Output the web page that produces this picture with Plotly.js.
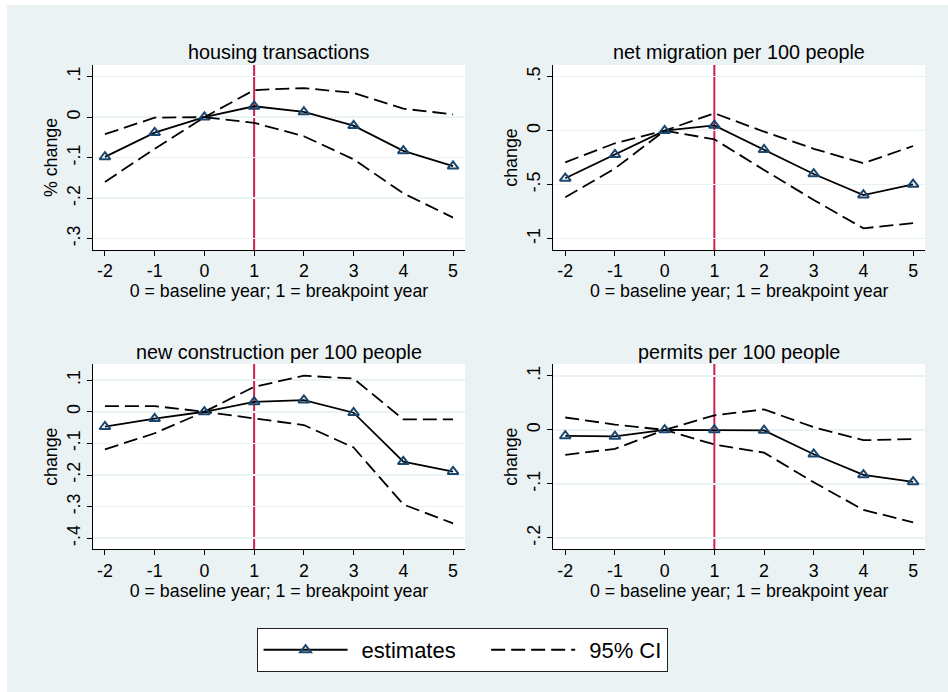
<!DOCTYPE html>
<html>
<head>
<meta charset="utf-8">
<script src="https://cdn.plot.ly/plotly-3.0.1.min.js"></script>
<style>
html,body{margin:0;padding:0;background:#ffffff;}
#chart{position:absolute;left:7px;top:5px;width:941px;height:687px;}
</style>
</head>
<body>
<div id="chart"></div>
<script>
// ---- data ----
const years = [-2, -1, 0, 1, 2, 3, 4, 5];
const xTickText = ["-2", "-1", "0", "1", "2", "3", "4", "5"];

const panelTitles = ["housing transactions", "net migration per 100 people",
                     "new construction per 100 people", "permits per 100 people"];
const yTitles = ["% change", "change", "change", "change"];
const xTitle = "0 = baseline year; 1 = breakpoint year";
const breakpointYear = 1;

const housingEst   = [-0.098, -0.038, 0, 0.027, 0.013, -0.021, -0.083, -0.121];
const housingUpper = [-0.042, -0.001, 0, 0.067, 0.072, 0.060, 0.021, 0.007];
const housingLower = [-0.160, -0.078, 0, -0.014, -0.047, -0.104, -0.188, -0.248];

const migrationEst   = [-0.441, -0.222, 0, 0.049, -0.176, -0.401, -0.596, -0.497];
const migrationUpper = [-0.293, -0.117, 0, 0.161, -0.009, -0.168, -0.302, -0.142];
const migrationLower = [-0.617, -0.350, 0, -0.080, -0.364, -0.642, -0.904, -0.857];

const constructionEst   = [-0.047, -0.022, 0, 0.031, 0.037, -0.003, -0.158, -0.189];
const constructionUpper = [0.018, 0.018, 0, 0.079, 0.114, 0.105, -0.024, -0.024];
const constructionLower = [-0.119, -0.068, 0, -0.021, -0.042, -0.113, -0.293, -0.353];

const permitsEst   = [-0.011, -0.012, 0, 0, -0.001, -0.045, -0.083, -0.096];
const permitsUpper = [0.023, 0.010, 0, 0.027, 0.038, 0.005, -0.019, -0.017];
const permitsLower = [-0.046, -0.035, 0, -0.027, -0.042, -0.097, -0.148, -0.171];

const yTickVals = [
  [-0.3, -0.2, -0.1, 0, 0.1],
  [-1, -0.5, 0, 0.5],
  [-0.4, -0.3, -0.2, -0.1, 0, 0.1],
  [-0.2, -0.1, 0, 0.1]
];
const yTickText = [
  ["-.3", "-.2", "-.1", "0", ".1"],
  ["-1", "-.5", "0", ".5"],
  ["-.4", "-.3", "-.2", "-.1", "0", ".1"],
  ["-.2", "-.1", "0", ".1"]
];
const legendNames = ["estimates", "95% CI"];

// ---- styling / layout ----
const BG = "#eaf2f3";
const NAVY = "#1a476f";
const RED = "#d0204c";
const FONT = "Liberation Sans, Arial, Helvetica, sans-serif";
const FS = 17.8;
const LW = 1.8;
const DASH = "14px,6px";
const PAD = "\u00a0\u00a0\u00a0\u00a0";   // spacing after the first legend entry

const series = [
  [housingEst, housingUpper, housingLower],
  [migrationEst, migrationUpper, migrationLower],
  [constructionEst, constructionUpper, constructionLower],
  [permitsEst, permitsUpper, permitsLower]
];
const yRanges = [[-0.328, 0.129], [-1.105, 0.608], [-0.435, 0.151], [-0.221, 0.122]];
const xDomains = [[0.0914, 0.4867], [0.5806, 0.9756], [0.0914, 0.4867], [0.5806, 0.9756]];
const yDomains = [[0.6434, 0.9127], [0.6434, 0.9127], [0.2077, 0.4774], [0.2077, 0.4774]];
const titleY = [0.9316, 0.9316, 0.4953, 0.4953];

const traces = [];
const legendTraces = [];
const layout = {
  width: 941, height: 687,
  margin: {l: 0, r: 0, t: 0, b: 0},
  paper_bgcolor: BG,
  plot_bgcolor: "#ffffff",
  font: {family: FONT, size: FS, color: "#000000"},
  showlegend: true,
  legend: {
    orientation: "h", x: 0.4836, xanchor: "center", y: 0.0932, yanchor: "top",
    bgcolor: "#ffffff", bordercolor: "#222222", borderwidth: 1,
    font: {family: FONT, size: 22, color: "#000000"},
    itemwidth: 94, tracegroupgap: 0
  },
  shapes: [],
  annotations: []
};

for (let i = 0; i < 4; i++) {
  const sfx = i === 0 ? "" : String(i + 1);
  const xa = "x" + sfx, ya = "y" + sfx;
  const [est, up, lo] = series[i];
  traces.push({
    x: years, y: up, xaxis: xa, yaxis: ya, type: "scatter", mode: "lines",
    line: {color: "#000000", width: LW, dash: DASH},
    name: legendNames[1], showlegend: false, hoverinfo: "skip"
  });
  const estTrace = {
    x: years, y: est, xaxis: xa, yaxis: ya, type: "scatter", mode: "lines+markers",
    line: {color: "#000000", width: LW},
    marker: {symbol: "triangle-up-open", size: 9.5, color: NAVY, line: {color: NAVY, width: 2}},
    name: i === 0 ? legendNames[0] + PAD : legendNames[0], showlegend: i === 0
  };
  const loTrace = {
    x: years, y: lo, xaxis: xa, yaxis: ya, type: "scatter", mode: "lines",
    line: {color: "#000000", width: LW, dash: DASH},
    name: legendNames[1], showlegend: i === 0, hoverinfo: "skip"
  };
  if (i === 0) {
    legendTraces.push(estTrace, loTrace);
  } else {
    traces.push(loTrace, estTrace);
  }

  layout["xaxis" + sfx] = {
    domain: xDomains[i], anchor: ya, range: [-2.24, 5.24],
    tickmode: "array", tickvals: years, ticktext: xTickText,
    ticks: "outside", ticklen: 5, tickwidth: 1, tickcolor: "#000000",
    showline: true, linecolor: "#000000", linewidth: 1,
    showgrid: false, zeroline: false,
    tickfont: {family: FONT, size: FS},
    title: {text: xTitle, font: {family: FONT, size: FS}, standoff: 0}
  };
  layout["yaxis" + sfx] = {
    domain: yDomains[i], anchor: xa, range: yRanges[i],
    tickmode: "array", tickvals: yTickVals[i], ticktext: yTickText[i],
    tickangle: -90,
    ticks: "outside", ticklen: 5, tickwidth: 1, tickcolor: "#000000",
    showline: true, linecolor: "#000000", linewidth: 1,
    showgrid: true, gridcolor: BG, gridwidth: 1.5, zeroline: false,
    tickfont: {family: FONT, size: FS},
    title: {text: yTitles[i], font: {family: FONT, size: FS}, standoff: 1}
  };
  layout.shapes.push({
    type: "line", xref: xa, yref: ya + " domain",
    x0: breakpointYear, x1: breakpointYear, y0: 0, y1: 1,
    line: {color: RED, width: 2}, layer: "below"
  });
  layout.annotations.push({
    text: panelTitles[i], xref: "paper", yref: "paper",
    x: (xDomains[i][0] + xDomains[i][1]) / 2, y: titleY[i],
    xanchor: "center", yanchor: "middle", showarrow: false,
    font: {family: FONT, size: 19.8, color: "#000000"}
  });
}

Plotly.newPlot("chart", legendTraces.concat(traces), layout,
               {displayModeBar: false, staticPlot: true}).then(function (gd) {
  // stretch the legend keys to the long Stata-style key lines
  gd.querySelectorAll(".legend .legendlines path").forEach(function (p) {
    p.setAttribute("d", "M6,0h84");
  });
  gd.querySelectorAll(".legend .legendpoints .scatterpts").forEach(function (p) {
    p.setAttribute("transform", "translate(48,0)");
  });
});
</script>
</body>
</html>
